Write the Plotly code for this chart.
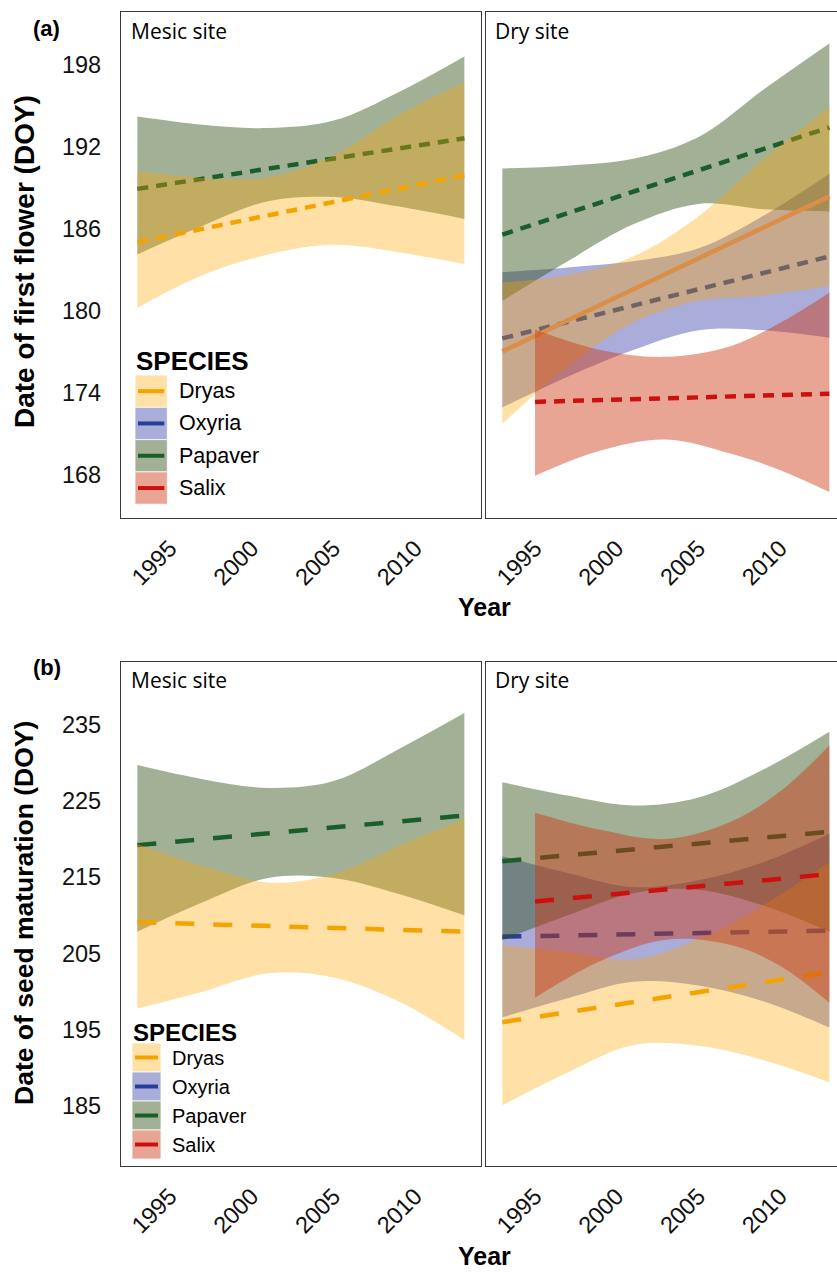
import plotly.graph_objects as go

# ---------------------------------------------------------------------------
# Data: fitted trends (two end points) and confidence bands per species/site
# ---------------------------------------------------------------------------
SPECIES = ["Dryas", "Oxyria", "Papaver", "Salix"]

BAND_YEARS = [1993, 1997, 2001, 2005, 2009, 2013]
SALIX_BAND_YEARS = [1995, 1999, 2003, 2007, 2010, 2013]
FIT_YEARS = [1993, 2013]
SALIX_FIT_YEARS = [1995, 2013]

# (a) date of first flower, mesic site
A_MESIC_DRYAS_UP = [190.2, 189.7, 189.75, 191.35, 194.3, 196.7]
A_MESIC_DRYAS_LO = [180.2, 182.6, 184.1, 184.8, 184.25, 183.4]
A_MESIC_DRYAS_FIT = [185.0, 189.9]
A_MESIC_PAPAVER_UP = [194.2, 193.6, 193.35, 193.9, 196.0, 198.6]
A_MESIC_PAPAVER_LO = [184.1, 186.2, 188.0, 188.3, 187.6, 186.7]
A_MESIC_PAPAVER_FIT = [188.9, 192.6]

# (a) date of first flower, dry site
A_DRY_DRYAS_UP = [182.05, 182.6, 183.95, 186.9, 191.1, 194.9]
A_DRY_DRYAS_LO = [171.7, 175.9, 179.1, 180.7, 181.1, 181.8]
A_DRY_DRYAS_FIT = [177.0, 188.35]
A_DRY_OXYRIA_UP = [182.8, 183.15, 183.6, 184.55, 186.95, 190.0]
A_DRY_OXYRIA_LO = [172.9, 175.15, 177.1, 178.55, 178.55, 178.0]
A_DRY_OXYRIA_FIT = [177.95, 183.95]
A_DRY_PAPAVER_UP = [190.4, 190.6, 191.1, 192.7, 196.2, 199.55]
A_DRY_PAPAVER_LO = [180.7, 183.6, 186.3, 187.8, 187.4, 187.25]
A_DRY_PAPAVER_FIT = [185.55, 193.4]
A_DRY_SALIX_UP = [178.6, 177.1, 176.6, 177.4, 179.1, 181.3]
A_DRY_SALIX_LO = [167.9, 169.75, 170.55, 169.5, 168.3, 166.7]
A_DRY_SALIX_FIT = [173.3, 173.9]

# (b) date of seed maturation, mesic site
B_MESIC_DRYAS_UP = [219.35, 216.45, 214.3, 215.4, 219.1, 222.65]
B_MESIC_DRYAS_LO = [197.8, 200.0, 202.4, 201.85, 198.7, 193.65]
B_MESIC_DRYAS_FIT = [209.1, 207.85]
B_MESIC_PAPAVER_UP = [229.7, 227.85, 226.7, 227.6, 231.8, 236.5]
B_MESIC_PAPAVER_LO = [207.85, 211.7, 214.9, 214.9, 212.8, 210.0]
B_MESIC_PAPAVER_FIT = [219.2, 223.07]

# (b) date of seed maturation, dry site
B_DRY_DRYAS_UP = [206.1, 205.2, 204.25, 206.9, 211.4, 217.0]
B_DRY_DRYAS_LO = [185.1, 189.4, 193.0, 192.9, 191.0, 188.1]
B_DRY_DRYAS_FIT = [196.0, 202.55]
B_DRY_OXYRIA_UP = [217.75, 215.55, 213.7, 214.6, 217.0, 220.7]
B_DRY_OXYRIA_LO = [196.65, 199.15, 201.3, 200.8, 198.7, 195.3]
B_DRY_OXYRIA_FIT = [207.2, 208.0]
B_DRY_PAPAVER_UP = [227.45, 225.7, 224.4, 225.45, 229.15, 234.05]
B_DRY_PAPAVER_LO = [206.75, 210.0, 212.9, 213.35, 211.25, 207.85]
B_DRY_PAPAVER_FIT = [217.1, 220.95]
B_DRY_SALIX_UP = [223.45, 221.2, 220.0, 222.3, 226.25, 232.25]
B_DRY_SALIX_LO = [199.2, 204.0, 206.8, 206.1, 203.35, 198.55]
B_DRY_SALIX_FIT = [211.8, 215.4]

X_TICKS = [1995, 2000, 2005, 2010]
A_Y_TICKS = [168, 174, 180, 186, 192, 198]
B_Y_TICKS = [185, 195, 205, 215, 225, 235]

# ---------------------------------------------------------------------------
# Styling
# ---------------------------------------------------------------------------
LINE_COLOURS = {
    "Dryas": "#F5A300",
    "Oxyria": "#26409A",
    "Papaver": "#1B5E2A",
    "Salix": "#CC1010",
}
BAND_COLOURS = {
    "Dryas": "rgba(255,165,0,0.35)",
    "Oxyria": "rgba(42,47,162,0.40)",
    "Papaver": "rgba(48,80,22,0.45)",
    "Salix": "rgba(205,55,15,0.45)",
}
# the significant (solid) Dryas trend at the dry site
DRYAS_SOLID_COLOUR = "#DA8E48"

W, H = 837, 1274
SANS = "Liberation Sans, Arial, sans-serif"
TITLE_FONT = "Open Sans, Noto Sans, sans-serif"
BORDER = "#3a3a3a"


def fx(px):
    return px / W


def fy(py):
    return 1 - py / H


fig = go.Figure()


def add_species(species, years, lo, up, fit_years, fit, xa, ya, dash, width,
                colour=None):
    fig.add_trace(go.Scatter(
        x=years, y=lo, xaxis=xa, yaxis=ya, mode="lines",
        line=dict(width=0, shape="spline", color=BAND_COLOURS[species]),
        hoverinfo="skip", showlegend=False))
    fig.add_trace(go.Scatter(
        x=years, y=up, xaxis=xa, yaxis=ya, mode="lines",
        line=dict(width=0, shape="spline", color=BAND_COLOURS[species]),
        fill="tonexty", fillcolor=BAND_COLOURS[species],
        hoverinfo="skip", showlegend=False))
    fig.add_trace(go.Scatter(
        x=fit_years, y=fit, xaxis=xa, yaxis=ya, mode="lines",
        line=dict(width=width, color=colour or LINE_COLOURS[species],
                  dash=dash),
        name=species, showlegend=False))


DASH_A = "11px,8px"
DASH_B = "19px,19px"
LW = 4.5

# (a) mesic
add_species("Papaver", BAND_YEARS, A_MESIC_PAPAVER_LO, A_MESIC_PAPAVER_UP,
            FIT_YEARS, A_MESIC_PAPAVER_FIT, "x", "y", DASH_A, LW)
add_species("Dryas", BAND_YEARS, A_MESIC_DRYAS_LO, A_MESIC_DRYAS_UP,
            FIT_YEARS, A_MESIC_DRYAS_FIT, "x", "y", DASH_A, LW)
# (a) dry
add_species("Oxyria", BAND_YEARS, A_DRY_OXYRIA_LO, A_DRY_OXYRIA_UP,
            FIT_YEARS, A_DRY_OXYRIA_FIT, "x2", "y2", DASH_A, LW)
add_species("Papaver", BAND_YEARS, A_DRY_PAPAVER_LO, A_DRY_PAPAVER_UP,
            FIT_YEARS, A_DRY_PAPAVER_FIT, "x2", "y2", DASH_A, LW)
add_species("Dryas", BAND_YEARS, A_DRY_DRYAS_LO, A_DRY_DRYAS_UP,
            FIT_YEARS, A_DRY_DRYAS_FIT, "x2", "y2", "solid", LW,
            colour=DRYAS_SOLID_COLOUR)
add_species("Salix", SALIX_BAND_YEARS, A_DRY_SALIX_LO, A_DRY_SALIX_UP,
            SALIX_FIT_YEARS, A_DRY_SALIX_FIT, "x2", "y2", DASH_A, LW)
# (b) mesic
add_species("Papaver", BAND_YEARS, B_MESIC_PAPAVER_LO, B_MESIC_PAPAVER_UP,
            FIT_YEARS, B_MESIC_PAPAVER_FIT, "x3", "y3", DASH_B, LW)
add_species("Dryas", BAND_YEARS, B_MESIC_DRYAS_LO, B_MESIC_DRYAS_UP,
            FIT_YEARS, B_MESIC_DRYAS_FIT, "x3", "y3", DASH_B, LW)
# (b) dry
add_species("Oxyria", BAND_YEARS, B_DRY_OXYRIA_LO, B_DRY_OXYRIA_UP,
            FIT_YEARS, B_DRY_OXYRIA_FIT, "x4", "y4", DASH_B, LW)
add_species("Papaver", BAND_YEARS, B_DRY_PAPAVER_LO, B_DRY_PAPAVER_UP,
            FIT_YEARS, B_DRY_PAPAVER_FIT, "x4", "y4", DASH_B, LW)
add_species("Dryas", BAND_YEARS, B_DRY_DRYAS_LO, B_DRY_DRYAS_UP,
            FIT_YEARS, B_DRY_DRYAS_FIT, "x4", "y4", DASH_B, LW)
add_species("Salix", SALIX_BAND_YEARS, B_DRY_SALIX_LO, B_DRY_SALIX_UP,
            SALIX_FIT_YEARS, B_DRY_SALIX_FIT, "x4", "y4", DASH_B, LW)

# ---------------------------------------------------------------------------
# Axes
# ---------------------------------------------------------------------------
MESIC_DOM = [fx(121), fx(480.7)]
DRY_DOM = [fx(486), 1.0]
A_DOM = [fy(518), fy(12)]
B_DOM = [fy(1166), fy(662)]

PX_PER_YEAR = (480.7 - 121) / 22.0
MESIC_RANGE = [1992, 2014]
DRY_RANGE = [1992, 1992 + (W - 486) / PX_PER_YEAR]

tickfont = dict(family=SANS, size=23.5, color="#111111")


def xaxis(domain, rng, anchor):
    return dict(domain=domain, range=rng, anchor=anchor, showgrid=False,
                zeroline=False, showline=True, mirror=True,
                linecolor=BORDER, linewidth=1.3, ticks="",
                tickvals=X_TICKS, tickangle=-45, tickfont=tickfont,
                ticklabelstandoff=6)


def yaxis(domain, rng, anchor, ticks, labels, mirror):
    return dict(domain=domain, range=rng, anchor=anchor, showgrid=False,
                zeroline=False, showline=True, mirror=mirror,
                linecolor=BORDER, linewidth=1.3, ticks="",
                tickvals=ticks, showticklabels=labels, tickfont=tickfont,
                ticklabelstandoff=14)


A_RANGE = [164.8, 201.85]
B_RANGE = [177.15, 243.2]

fig.update_layout(
    width=W, height=H,
    margin=dict(l=0, r=0, t=0, b=0),
    paper_bgcolor="white", plot_bgcolor="white",
    showlegend=False,
    xaxis=xaxis(MESIC_DOM, MESIC_RANGE, "y"),
    yaxis=yaxis(A_DOM, A_RANGE, "x", A_Y_TICKS, True, True),
    xaxis2=xaxis(DRY_DOM, DRY_RANGE, "y2"),
    yaxis2=yaxis(A_DOM, A_RANGE, "x2", A_Y_TICKS, False, False),
    xaxis3=xaxis(MESIC_DOM, MESIC_RANGE, "y3"),
    yaxis3=yaxis(B_DOM, B_RANGE, "x3", B_Y_TICKS, True, True),
    xaxis4=xaxis(DRY_DOM, DRY_RANGE, "y4"),
    yaxis4=yaxis(B_DOM, B_RANGE, "x4", B_Y_TICKS, False, False),
)

# ---------------------------------------------------------------------------
# Text
# ---------------------------------------------------------------------------
annotations = []


def text(s, x, y, size, family=SANS, bold=False, xanchor="center",
         angle=0):
    annotations.append(dict(
        text=f"<b>{s}</b>" if bold else s, x=fx(x), y=fy(y),
        xref="paper", yref="paper", showarrow=False, xanchor=xanchor,
        yanchor="middle", textangle=angle,
        font=dict(family=family, size=size, color="#000000")))


text("(a)", 46, 29, 22, bold=True)
text("(b)", 47, 667, 22, bold=True)
text("Mesic site", 129, 31, 21, family=TITLE_FONT, xanchor="left")
text("Dry site", 493, 31, 21, family=TITLE_FONT, xanchor="left")
text("Mesic site", 129, 680, 21, family=TITLE_FONT, xanchor="left")
text("Dry site", 493, 680, 21, family=TITLE_FONT, xanchor="left")
text("Date of first flower (DOY)", 24, 262, 28, bold=True, angle=-90)
text("Date of seed maturation (DOY)", 24, 913, 26.5, bold=True, angle=-90)
text("Year", 484, 607, 25, bold=True)
text("Year", 484, 1256, 25, bold=True)

# ---------------------------------------------------------------------------
# Species key drawn inside each mesic panel
# ---------------------------------------------------------------------------
shapes = []


def species_key(x0, title_y, first_top, key, size_txt, size_title, gap):
    text("SPECIES", x0 - 1, title_y, size_title, bold=True, xanchor="left")
    for i, sp in enumerate(SPECIES):
        top = first_top + i * key
        shapes.append(dict(type="rect", xref="paper", yref="paper",
                           x0=fx(x0), x1=fx(x0 + key), y0=fy(top + key),
                           y1=fy(top), fillcolor=BAND_COLOURS[sp],
                           line=dict(color="rgba(255,255,255,0.8)", width=1)))
        cy = top + key / 2
        shapes.append(dict(type="line", xref="paper", yref="paper",
                           x0=fx(x0 + 3), x1=fx(x0 + key - 3), y0=fy(cy),
                           y1=fy(cy),
                           line=dict(color=LINE_COLOURS[sp], width=4)))
        text(sp, x0 + key + gap, cy, size_txt, xanchor="left")


species_key(135, 361, 375, 32.3, 21.5, 26, 10)
species_key(132, 1032, 1043, 29, 20, 24, 9)

fig.update_layout(annotations=annotations, shapes=shapes)

fig.write_html("out.html")
